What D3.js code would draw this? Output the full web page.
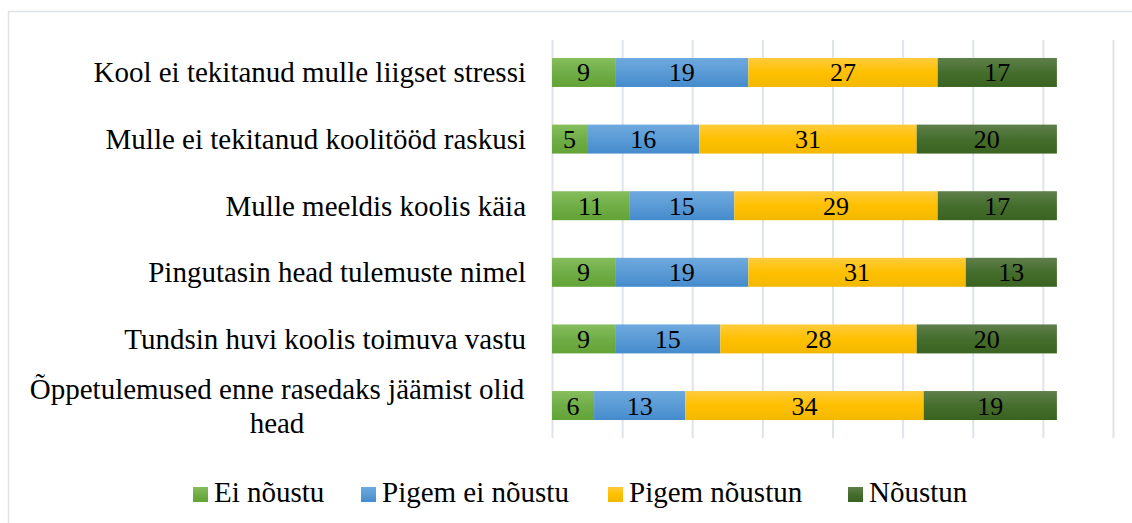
<!DOCTYPE html>
<html>
<head>
<meta charset="utf-8">
<script src="https://cdn.jsdelivr.net/npm/d3@7"></script>
<style>
  body { margin: 0; background: #fff; }
  #chart { width: 1132px; height: 523px; }
  text { font-family: "Liberation Serif", "Times New Roman", serif; fill: #000; }
</style>
</head>
<body>
<div id="chart"></div>
<script>
// data
const categories = [
    "Kool ei tekitanud mulle liigset stressi",
    "Mulle ei tekitanud koolitööd raskusi",
    "Mulle meeldis koolis käia",
    "Pingutasin head tulemuste nimel",
    "Tundsin huvi koolis toimuva vastu",
    "Õppetulemused enne rasedaks jäämist olid head"
];
const seriesNames = ["Ei nõustu", "Pigem ei nõustu", "Pigem nõustun", "Nõustun"];
const eiNoustu      = [9, 5, 11, 9, 9, 6];
const pigemEiNoustu = [19, 16, 15, 19, 15, 13];
const pigemNoustun  = [27, 31, 29, 31, 28, 34];
const noustun       = [17, 20, 17, 13, 20, 19];
const xTicks = [0, 10, 20, 30, 40, 50, 60, 70, 80];

// labels wrapped like the original
const labelLines = {
    "Õppetulemused enne rasedaks jäämist olid head": ["Õppetulemused enne rasedaks jäämist olid", "head"]
};

const colors = [
    {top: "#86be5e", mid: "#70ad47", bot: "#63a336"},
    {top: "#6ea9df", mid: "#5b9bd5", bot: "#448bcd"},
    {top: "#ffcb3c", mid: "#ffc000", bot: "#f2b800"},
    {top: "#5f7f4b", mid: "#456e2d", bot: "#3a6320"}
];

const width = 1132, height = 523;
const margin = {top: 40, left: 552, right: 19, bottom: 85};
const plotWidth = width - margin.left - margin.right;
const plotHeight = height - margin.top - margin.bottom;

const table = categories.map((c, i) => ({
    cat: c,
    values: [eiNoustu[i], pigemEiNoustu[i], pigemNoustun[i], noustun[i]]
}));

const stack = d3.stack().keys([0, 1, 2, 3]).value((d, k) => d.values[k]);
const stacked = stack(table);

const x = d3.scaleLinear().domain([0, 80]).range([0, plotWidth]);
const y = d3.scaleBand().domain(categories).range([0, plotHeight]).paddingInner(0.565).paddingOuter(0.27);

const svg = d3.select("#chart").append("svg")
    .attr("width", width)
    .attr("height", height);

// gradients for the office-style bar fill
const defs = svg.append("defs");
colors.forEach((c, i) => {
    const g = defs.append("linearGradient")
        .attr("id", "grad" + i)
        .attr("x1", 0).attr("y1", 0).attr("x2", 0).attr("y2", 1);
    g.append("stop").attr("offset", "0%").attr("stop-color", c.top);
    g.append("stop").attr("offset", "50%").attr("stop-color", c.mid);
    g.append("stop").attr("offset", "100%").attr("stop-color", c.bot);
});

// outer chart frame
svg.append("rect")
    .attr("x", 8.5).attr("y", 11.5)
    .attr("width", 1140).attr("height", 540)
    .attr("fill", "none")
    .attr("stroke", "#dfe2e7")
    .attr("stroke-width", 1.5);

const plot = svg.append("g")
    .attr("transform", `translate(${margin.left},${margin.top})`);

// vertical gridlines
plot.append("g")
    .attr("class", "xGrid")
    .call(d3.axisBottom(x).tickValues(xTicks).tickSize(plotHeight).tickFormat(""))
    .call(g => g.select(".domain").remove())
    .call(g => g.selectAll("line").attr("stroke", "#dfe3ea").attr("stroke-width", 2));

// bars
const layers = plot.selectAll(".layer")
    .data(stacked)
    .enter()
    .append("g")
    .attr("class", "layer")
    .attr("fill", (d, i) => `url(#grad${i})`);

layers.selectAll("rect")
    .data(d => d)
    .enter()
    .append("rect")
    .attr("x", d => x(d[0]))
    .attr("y", d => y(d.data.cat))
    .attr("width", d => x(d[1]) - x(d[0]))
    .attr("height", y.bandwidth());

// value labels
layers.selectAll("text")
    .data(d => d)
    .enter()
    .append("text")
    .attr("x", d => (x(d[0]) + x(d[1])) / 2)
    .attr("y", d => y(d.data.cat) + y.bandwidth() / 2 + 9)
    .attr("text-anchor", "middle")
    .style("font-size", "26px")
    .text(d => d[1] - d[0]);

// category labels
const catLabels = plot.append("g").attr("class", "yLabels");
categories.forEach(c => {
    const lines = labelLines[c] || [c];
    const cy = y(c) + y.bandwidth() / 2;
    const t = catLabels.append("text")
        .attr("text-anchor", lines.length > 1 ? "middle" : "end")
        .style("font-size", "29px");
    lines.forEach((ln, j) => {
        t.append("tspan")
            .attr("x", lines.length > 1 ? -275 : -26)
            .attr("y", cy + 10 + (j - (lines.length - 1) / 2) * 34)
            .text(ln);
    });
});

// legend
const legendX = [193, 361, 608, 848];
const legend = svg.append("g").attr("class", "legend");
seriesNames.forEach((s, i) => {
    legend.append("rect")
        .attr("x", legendX[i]).attr("y", 487)
        .attr("width", 15).attr("height", 15)
        .attr("fill", `url(#grad${i})`);
    legend.append("text")
        .attr("x", legendX[i] + 21).attr("y", 502)
        .style("font-size", "29px")
        .text(s);
});
</script>
</body>
</html>
